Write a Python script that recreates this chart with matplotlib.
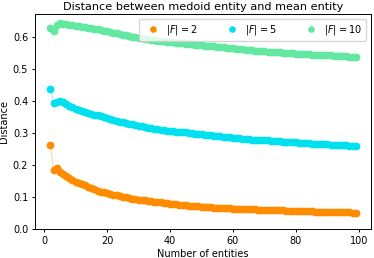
import matplotlib
matplotlib.use("Agg")
import matplotlib.pyplot as plt

# number of entities (2..99)
n_entities = list(range(2, 100))

dist_f2 = [0.263, 0.185, 0.192, 0.178, 0.172, 0.166, 0.160, 0.154, 0.149, 0.145,
           0.141, 0.137, 0.133, 0.129, 0.125, 0.121, 0.118, 0.115, 0.112, 0.110,
           0.108, 0.106, 0.104, 0.102, 0.100, 0.098, 0.096, 0.094, 0.093, 0.091,
           0.090, 0.089, 0.088, 0.086, 0.085, 0.084, 0.082, 0.081, 0.080, 0.079,
           0.078, 0.077, 0.076, 0.075, 0.074, 0.074, 0.073, 0.072, 0.071, 0.071,
           0.070, 0.069, 0.068, 0.068, 0.067, 0.067, 0.066, 0.066, 0.065, 0.065,
           0.064, 0.064, 0.063, 0.063, 0.062, 0.062, 0.061, 0.061, 0.061, 0.060,
           0.060, 0.060, 0.059, 0.059, 0.059, 0.058, 0.058, 0.058, 0.057, 0.057,
           0.057, 0.056, 0.056, 0.056, 0.055, 0.055, 0.055, 0.055, 0.054, 0.054,
           0.054, 0.054, 0.053, 0.053, 0.053, 0.053, 0.052, 0.052]

dist_f5 = [0.438, 0.393, 0.398, 0.399, 0.397, 0.391, 0.385, 0.380, 0.375, 0.372,
           0.369, 0.366, 0.363, 0.360, 0.357, 0.355, 0.352, 0.349, 0.347, 0.344,
           0.341, 0.339, 0.336, 0.334, 0.331, 0.329, 0.327, 0.325, 0.323, 0.321,
           0.319, 0.317, 0.315, 0.314, 0.312, 0.311, 0.310, 0.308, 0.307, 0.306,
           0.305, 0.304, 0.303, 0.302, 0.300, 0.299, 0.298, 0.297, 0.296, 0.295,
           0.294, 0.293, 0.292, 0.291, 0.290, 0.289, 0.288, 0.287, 0.286, 0.285,
           0.284, 0.283, 0.282, 0.281, 0.280, 0.279, 0.279, 0.278, 0.277, 0.277,
           0.276, 0.275, 0.275, 0.274, 0.273, 0.273, 0.272, 0.271, 0.271, 0.270,
           0.269, 0.269, 0.268, 0.267, 0.267, 0.266, 0.266, 0.265, 0.265, 0.264,
           0.264, 0.263, 0.263, 0.262, 0.262, 0.261, 0.261, 0.260]

dist_f10 = [0.628, 0.617, 0.638, 0.642, 0.641, 0.640, 0.638, 0.636, 0.634, 0.633,
            0.631, 0.630, 0.629, 0.627, 0.625, 0.623, 0.621, 0.619, 0.617, 0.615,
            0.613, 0.611, 0.609, 0.607, 0.605, 0.603, 0.601, 0.599, 0.597, 0.595,
            0.593, 0.592, 0.590, 0.589, 0.588, 0.587, 0.586, 0.585, 0.584, 0.583,
            0.582, 0.581, 0.580, 0.579, 0.578, 0.577, 0.576, 0.575, 0.574, 0.573,
            0.572, 0.571, 0.570, 0.569, 0.568, 0.567, 0.566, 0.565, 0.564, 0.563,
            0.562, 0.561, 0.560, 0.559, 0.558, 0.557, 0.556, 0.556, 0.555, 0.554,
            0.554, 0.553, 0.552, 0.552, 0.551, 0.550, 0.550, 0.549, 0.548, 0.548,
            0.547, 0.546, 0.546, 0.545, 0.545, 0.544, 0.543, 0.543, 0.542, 0.542,
            0.541, 0.540, 0.540, 0.539, 0.539, 0.538, 0.538, 0.537]

series = [(dist_f2, "#ff8c00", r"$|F| = 2$"),
          (dist_f5, "#00e0ee", r"$|F| = 5$"),
          (dist_f10, "#62e8a0", r"$|F| = 10$")]

plt.rcParams["font.size"] = 7
plt.rcParams["axes.linewidth"] = 0.7
plt.rcParams["xtick.major.width"] = 0.7
plt.rcParams["ytick.major.width"] = 0.7
plt.rcParams["xtick.major.size"] = 2.5
plt.rcParams["ytick.major.size"] = 2.5
plt.rcParams["xtick.major.pad"] = 2.5
plt.rcParams["ytick.major.pad"] = 2.5

fig = plt.figure(figsize=(3.74, 2.58), dpi=100)
ax = fig.add_axes([0.094, 0.111, 0.898, 0.835])

for y, c, lab in series:
    ax.plot(n_entities, y, color=c, alpha=0.35, lw=0.8)
    ax.plot(n_entities, y, "o", color=c, ms=5.6, mec="none", label=lab)

ax.set_ylim(bottom=0)
ax.set_title("Distance between medoid entity and mean entity", fontsize=8.1, pad=2.5)
ax.set_xlabel("Number of entities", labelpad=2)
ax.set_ylabel("Distance", labelpad=3)
ax.legend(loc="upper right", ncol=3, fontsize=7, handletextpad=0.4,
          columnspacing=2.5, borderpad=0.4, markerscale=0.85)

fig.savefig("out.png", dpi=100)
